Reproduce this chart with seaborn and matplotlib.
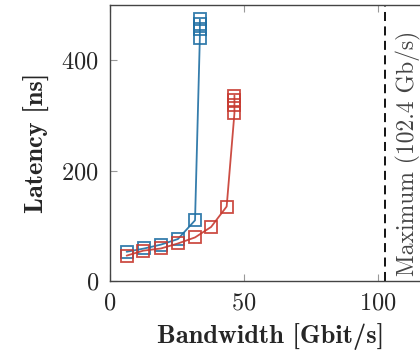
import pandas as pd
import matplotlib.pyplot as plt
import seaborn as sns

# Bandwidth [Gbit/s] and latency [ns]
blue_bw = [6.2, 12.8, 19.0, 25.3, 31.7, 33.5, 33.5, 33.5, 33.5]
blue_lat = [53, 59, 66, 76, 110, 441, 457, 466, 474]
red_bw = [6.2, 12.4, 19.0, 25.3, 31.7, 37.7, 43.5, 46.4, 46.4, 46.4, 46.4]
red_lat = [46, 55, 59, 68, 79, 98, 135, 304, 319, 328, 336]
max_bw = 102.4

df = pd.concat([
    pd.DataFrame({'bw': blue_bw, 'lat': blue_lat, 'series': 'blue'}),
    pd.DataFrame({'bw': red_bw, 'lat': red_lat, 'series': 'red'}),
])

sns.set_style('ticks')
plt.rcParams['font.family'] = ['cmr10', 'DejaVu Serif']
plt.rcParams['axes.formatter.use_mathtext'] = True

fig = plt.figure(figsize=(4.2, 3.58), dpi=100)
ax = fig.add_axes([0.262, 0.215, 0.766, 0.771])

sns.lineplot(data=df, x='bw', y='lat', hue='series', sort=False, estimator=None,
             palette={'blue': '#1f6fa3', 'red': '#c73a30'}, marker='s',
             markersize=9, markerfacecolor='none', markeredgewidth=1.3,
             linewidth=1.3, legend=False, ax=ax)
for ln in ax.lines:
    ln.set_markeredgecolor(ln.get_color())
    ln.set_alpha(0.9)

ax.axvline(max_bw, color='black', linestyle=(0, (5, 3)), linewidth=1.3)
ax.text(max_bw + 9, 232, 'Maximum (102.4 Gb/s)', rotation=90, ha='center',
        va='center', fontsize=17, color='#444444')

ax.set_xlim(0, 120)
ax.set_ylim(0, 500)
ax.set_xticks([0, 50, 100])
ax.set_yticks([0, 200, 400])
ax.tick_params(direction='in', length=5, color='#999999', labelsize=17.5,
               top=True, right=True, pad=8)
for s in ax.spines.values():
    s.set_color('#444444')
    s.set_linewidth(1.0)

ax.set_xlabel('Bandwidth [Gbit/s]', fontsize=19, fontfamily='cmb10', labelpad=6)
ax.set_ylabel('Latency [ns]', fontsize=19, fontfamily='cmb10', labelpad=8)

plt.savefig('out.png', dpi=100)
